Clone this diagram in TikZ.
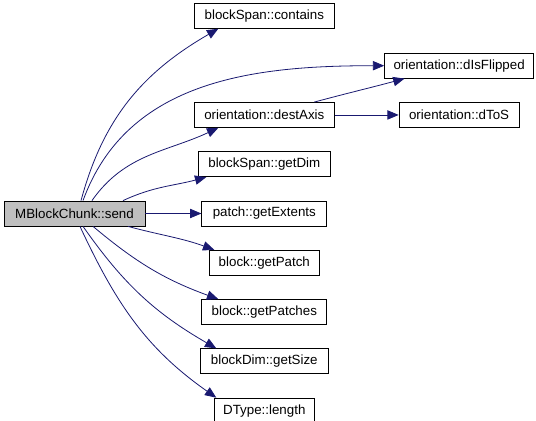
\documentclass[tikz,border=0pt]{standalone}
\usepackage{fontspec}
\setsansfont{Liberation Sans}
\usepackage{tikz}
\usetikzlibrary{positioning, arrows.meta}
\definecolor{edgeblue}{HTML}{191970}
\definecolor{callergray}{HTML}{BFBFBF}

\begin{document}
\begin{tikzpicture}[
	x=0.75pt, y=0.75pt,
	node distance=17.6pt and 42pt,
	func/.style={
		rectangle,
		draw=black,
		line width=0.6pt,
		minimum height=18.75pt,
		inner xsep=4pt,
		align=center,
		font=\sffamily\fontsize{10}{12}\selectfont
	},
	caller/.style={
		func,
		fill=callergray
	},
	llamada/.style={
		-{Triangle[length=8.5pt,width=7pt]},
		line width=0.6pt,
		edgeblue
	}
	]
	\useasboundingbox (0,0) rectangle (536,421);
	\node[caller, minimum width=105.75pt] (send) at (74.5,207.5)
	{MBlockChunk::send};
	\node[func, minimum width=93.75pt, right=of send] (extents)
	{patch::getExtents};
	\node[func, minimum width=99pt, above=of extents] (getdim)
	{blockSpan::getDim};
	\node[func, minimum width=105pt, above=of getdim] (destaxis)
	{orientation::destAxis};
	\node[func, minimum width=105pt, above=55pt of destaxis] (contains)
	{blockSpan::contains};
	\node[func, minimum width=90pt, right=48pt of destaxis] (dtos)
	{orientation::dToS};
	\node[func, minimum width=111.75pt, above=of dtos] (flipped)
	{orientation::dIsFlipped};
	\node[func, minimum width=82.5pt, below=of extents] (getpatch)
	{block::getPatch};
	\node[func, minimum width=93.75pt, below=of getpatch] (getpatches)
	{block::getPatches};
	\node[func, minimum width=96pt, below=of getpatches] (getsize)
	{blockDim::getSize};
	\node[func, minimum width=75pt, below=of getsize] (length)
	{DType::length};
	\draw[llamada] ([xshift=4.9pt]send.north) to[out=75, in=210] ([xshift=-34.5pt]contains.south);
	\draw[llamada] ([xshift=6.4pt]send.north) to[out=70, in=180] (flipped.west);
	\draw[llamada] ([xshift=13.1pt]send.north) to[out=55, in=205] ([xshift=-34.5pt]destaxis.south);
	\draw[llamada] ([xshift=36.4pt]send.north) to[out=25, in=195] ([xshift=-43.5pt]getdim.south);
	\draw[llamada] (send) -- (extents);
	\draw[llamada] ([xshift=40.1pt]send.south) to[out=-15, in=160] ([xshift=-37.5pt]getpatch.north);
	\draw[llamada] ([xshift=13.9pt]send.south) to[out=-40, in=160] ([xshift=-34.5pt]getpatches.north);
	\draw[llamada] ([xshift=6.4pt]send.south) to[out=-55, in=150] ([xshift=-36pt]getsize.north);
	\draw[llamada] ([xshift=4.1pt]send.south) to[out=-65, in=145] ([xshift=-36pt]length.north);
	\draw[llamada] ([xshift=37.5pt]destaxis.north) to[out=15, in=195] ([xshift=-40.9pt]flipped.south);
	\draw[llamada] (destaxis) -- (dtos);
\end{tikzpicture}
\end{document}
